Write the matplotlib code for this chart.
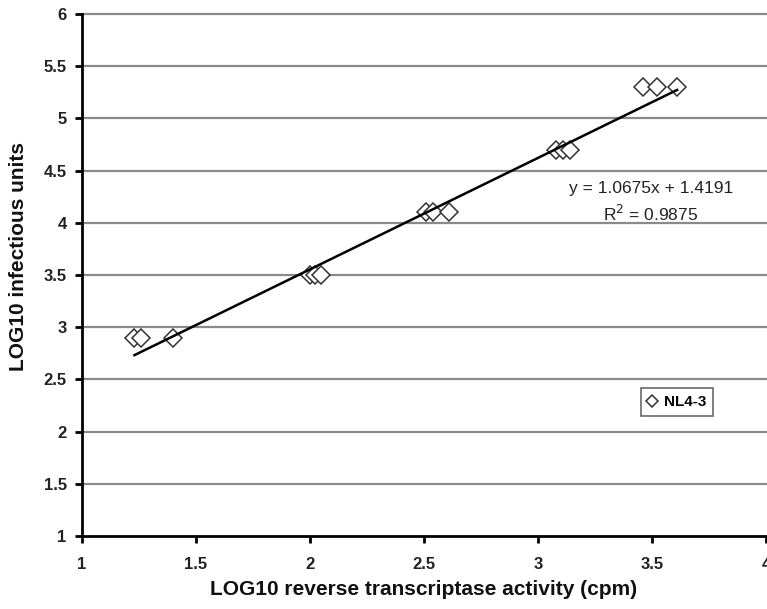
import numpy as np
import matplotlib
matplotlib.use("Agg")
import matplotlib.pyplot as plt

plt.rcParams['font.family'] = ['Liberation Sans', 'DejaVu Sans']

# LOG10 reverse transcriptase activity (cpm) vs LOG10 infectious units, NL4-3
rt_activity = [1.23, 1.26, 1.40,
               2.00, 2.02, 2.05,
               2.51, 2.54, 2.61,
               3.08, 3.11, 3.14,
               3.46, 3.52, 3.61]
infectious_units = [2.9, 2.9, 2.9,
                    3.5, 3.5, 3.5,
                    4.1, 4.1, 4.1,
                    4.7, 4.7, 4.7,
                    5.3, 5.3, 5.3]
series_name = "NL4-3"

# linear trendline reported on the chart
slope = 1.0675
intercept = 1.4191
r_squared = 0.9875

x_ticks = [1, 1.5, 2, 2.5, 3, 3.5, 4]
x_tick_labels = ["1", "1.5", "2", "2.5", "3", "3.5", "4"]
y_ticks = [1, 1.5, 2, 2.5, 3, 3.5, 4, 4.5, 5, 5.5, 6]
y_tick_labels = ["1", "1.5", "2", "2.5", "3", "3.5", "4", "4.5", "5", "5.5", "6"]

fig = plt.figure(figsize=(7.67, 6.09), dpi=100)
ax = fig.add_axes([0.1069, 0.1199, 0.8918, 0.8571])

ax.set_xlim(1, 4)
ax.set_ylim(1, 6)

# horizontal gridlines
for yv in y_ticks[1:]:
    ax.axhline(yv, color='#8a8a8a', lw=1.6, zorder=1, clip_on=False)

ax.plot(rt_activity, infectious_units, linestyle='none', marker='D', ms=9.5,
        mfc='white', mec='#333333', mew=1.1, zorder=3, label=series_name)

xs = np.array([min(rt_activity), max(rt_activity)])
ax.plot(xs, slope * xs + intercept, color='black', lw=1.8, zorder=4)

ax.text(3.496, 4.33, f"y = {slope}x + {intercept}", ha='center', va='center',
        fontsize=12.5, color='#222222')
ax.text(3.496, 4.085, f"R$^2$ = {r_squared}", ha='center', va='center',
        fontsize=12.5, color='#222222')

for side in ('top', 'right'):
    ax.spines[side].set_visible(False)
for side in ('left', 'bottom'):
    ax.spines[side].set_linewidth(2.0)
    ax.spines[side].set_color('black')

ax.set_xticks(x_ticks)
ax.set_xticklabels(x_tick_labels)
ax.set_yticks(y_ticks)
ax.set_yticklabels(y_tick_labels)
ax.tick_params(axis='both', direction='out', length=5, width=2, colors='black',
               labelcolor='#222222', labelsize=12)
ax.tick_params(axis='x', pad=10)
ax.tick_params(axis='y', pad=6)
for lbl in ax.get_xticklabels() + ax.get_yticklabels():
    lbl.set_fontweight('bold')

ax.set_xlabel("LOG10 reverse transcriptase activity (cpm)", fontsize=15,
              fontweight='bold', color='#111111', labelpad=6)
ax.set_ylabel("LOG10 infectious units", fontsize=15, fontweight='bold',
              color='#111111')
ax.yaxis.set_label_coords(-0.079, 0.535)

leg = ax.legend(loc='upper left', bbox_to_anchor=(0.817, 0.2835), frameon=True,
                fancybox=False, edgecolor='#444444', markerscale=0.6,
                handlelength=0.6, handletextpad=0.45, borderpad=0.45,
                borderaxespad=0, prop={'weight': 'bold', 'size': 11})
leg.get_frame().set_linewidth(1.2)

fig.savefig("out.png", dpi=100, facecolor='white')
